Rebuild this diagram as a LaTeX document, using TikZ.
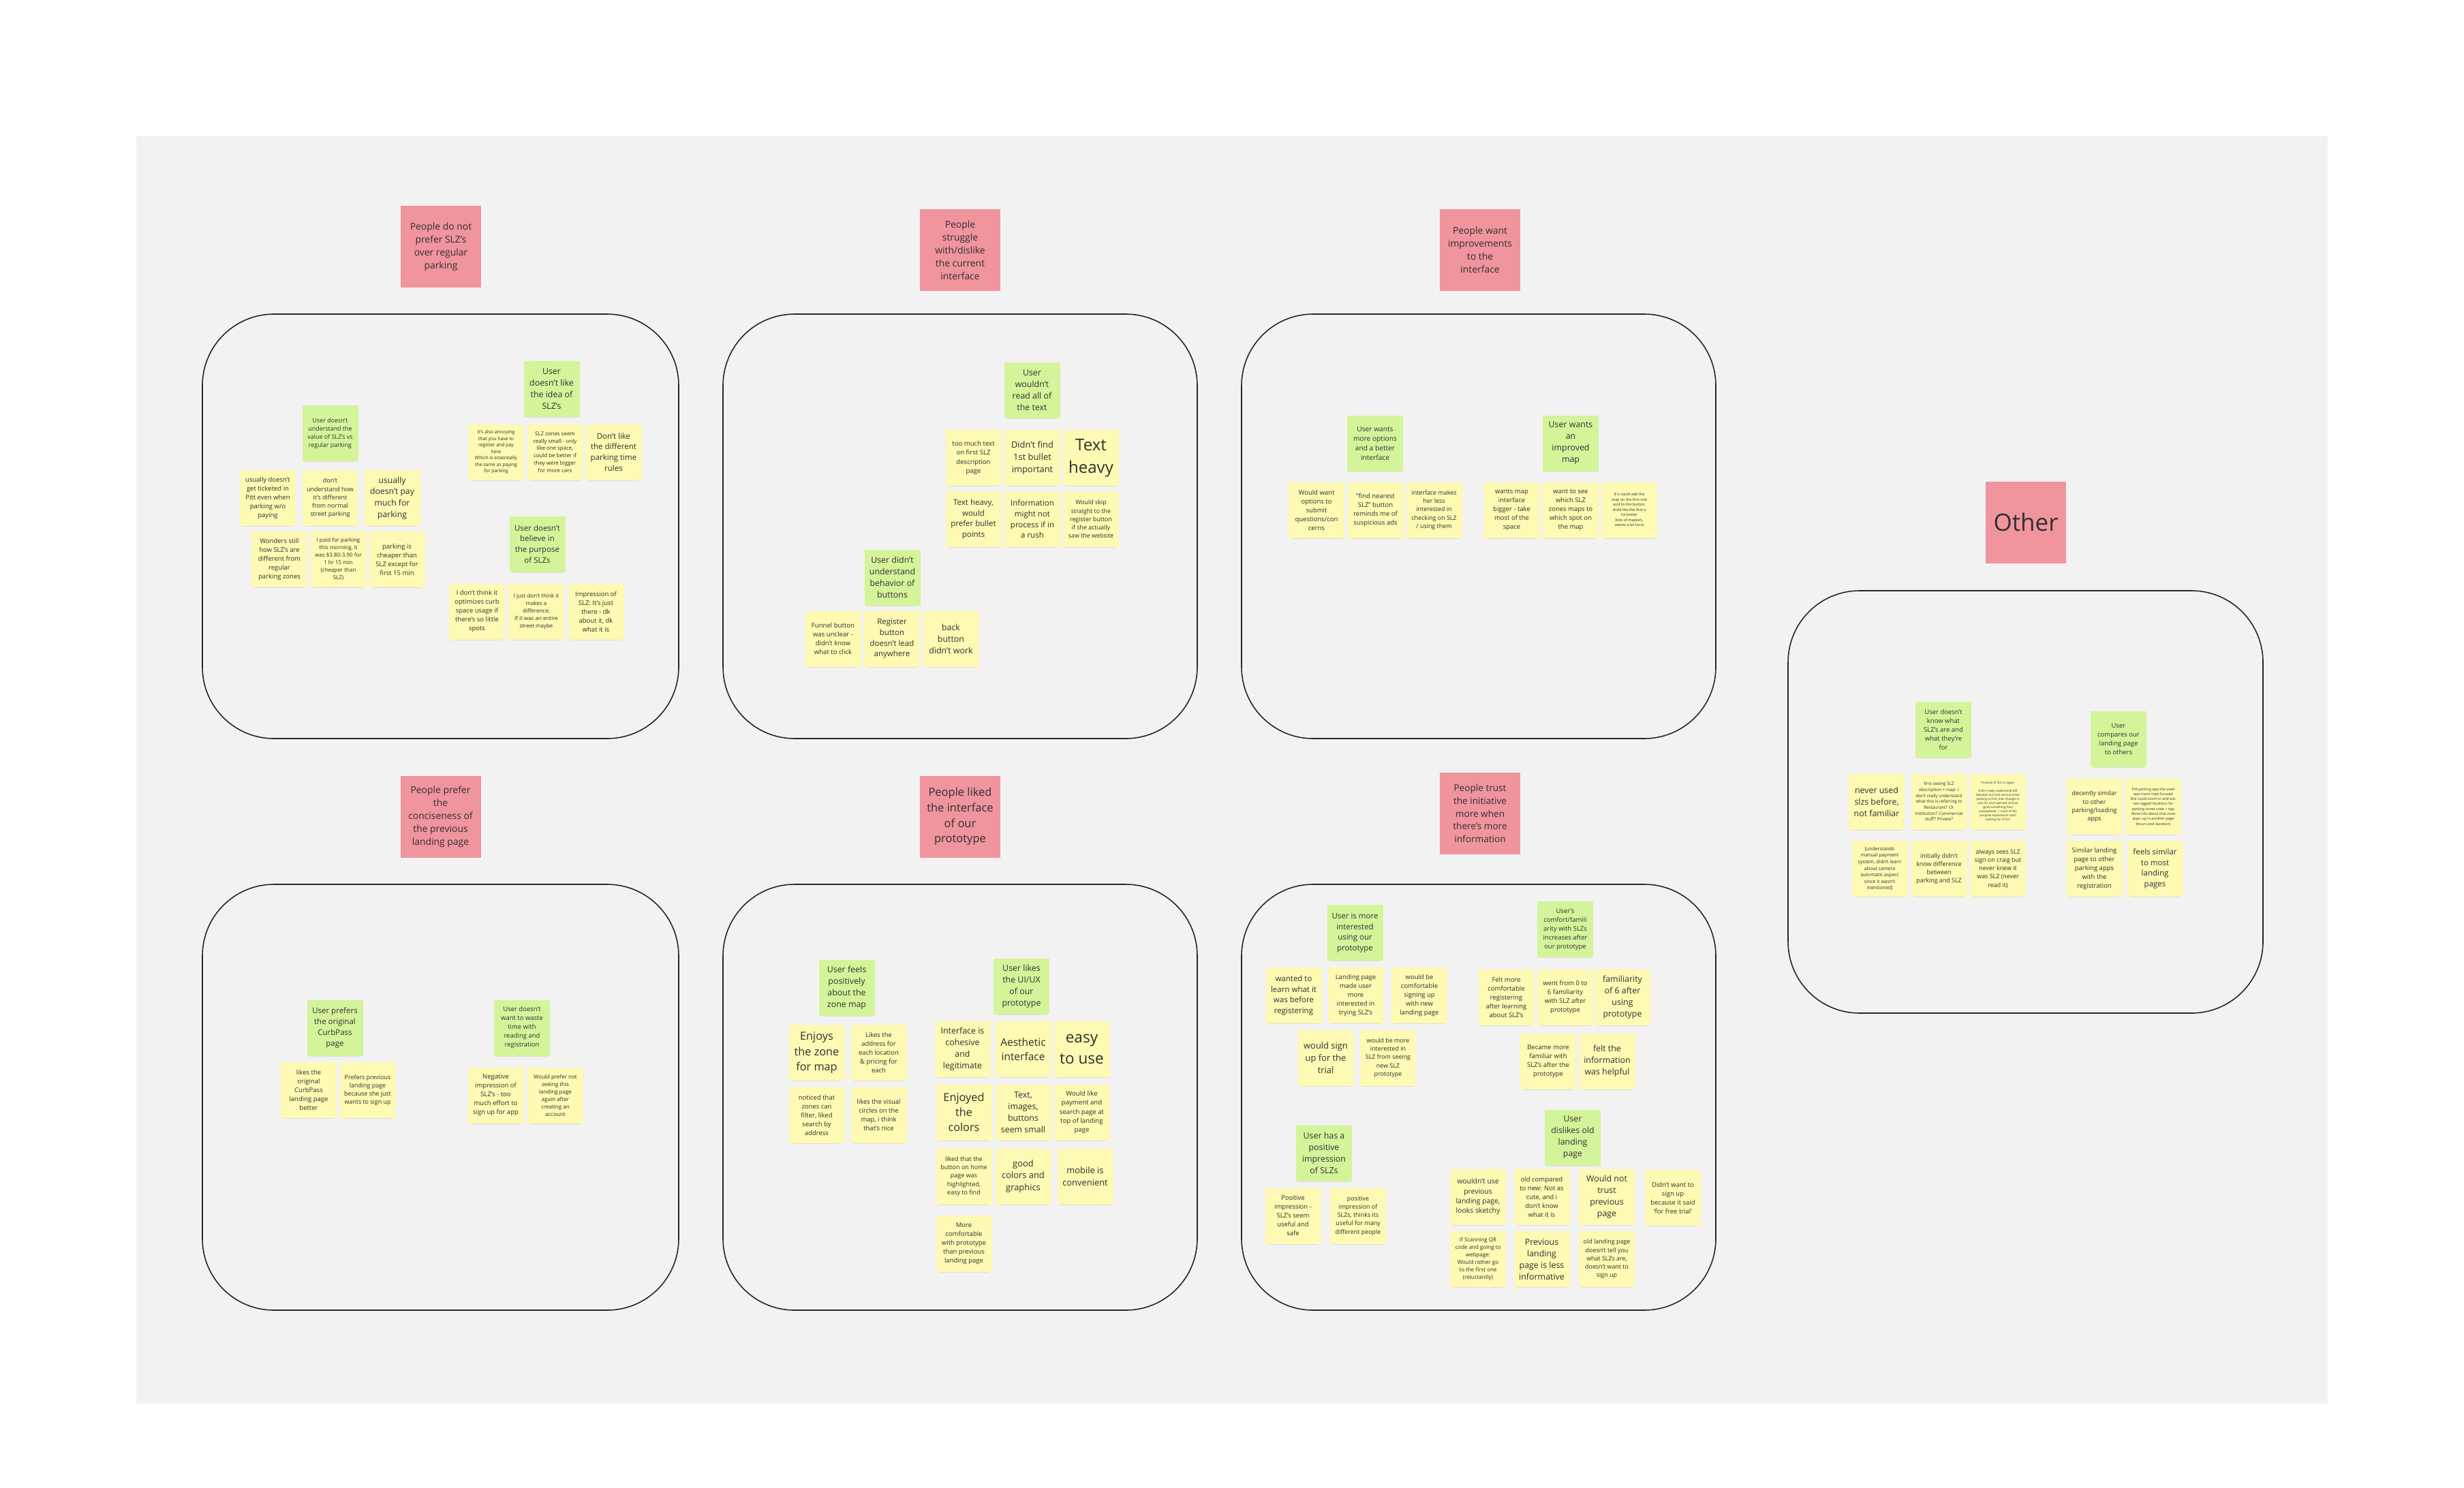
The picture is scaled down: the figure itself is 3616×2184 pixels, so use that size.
\documentclass[tikz,border=0pt]{standalone}
\usepackage{fontspec}
\setmainfont{Open Sans}
\usetikzlibrary{shadows}
\definecolor{board}{HTML}{F2F2F2}
\definecolor{stickyyellow}{HTML}{FEF9B3}
\definecolor{stickygreen}{HTML}{D4F49A}
\definecolor{stickyred}{HTML}{F0949E}
\definecolor{inktext}{HTML}{303030}
\tikzset{
  fs/.style 2 args={font=\fontsize{#1}{#2}\selectfont},
  sticky/.style={rectangle,inner sep=0pt,minimum width=82pt,minimum height=82pt,align=center,text=inktext,
    drop shadow={shadow xshift=0pt,shadow yshift=-6pt,shadow scale=0.9,opacity=0.18}},
  yel/.style={sticky,fill=stickyyellow},
  grn/.style={sticky,fill=stickygreen},
  hdr/.style={sticky,fill=stickyred,minimum width=118pt,minimum height=120pt,fs={13.9}{19}},
  cluster/.style={draw=black!85,line width=1.6pt,rounded corners=105pt}
}
\begin{document}
\begin{tikzpicture}[x=1pt,y=-1pt]
\useasboundingbox (0,0) rectangle (3616,2184);
\fill[board] (200,200) rectangle (3416,2060);
% cluster outlines
\draw[cluster] (297,461) rectangle (996,1084);
\draw[cluster] (1061,461) rectangle (1757,1084);
\draw[cluster] (1822,461) rectangle (2518,1084);
\draw[cluster] (297,1298) rectangle (996,1923);
\draw[cluster] (1061,1298) rectangle (1757,1923);
\draw[cluster] (1822,1298) rectangle (2518,1923);
\draw[cluster] (2624,867) rectangle (3321,1487);
% headers
\node[hdr] (h_prefer) at (647,362) {People do not\\prefer SLZ's\\over regular\\parking};
\node[hdr] (h_struggle) at (1409,367) {People\\struggle\\with/dislike\\the current\\interface};
\node[hdr] (h_improve) at (2172,367) {People want\\improvements\\to the\\interface};
\node[hdr] (h_concise) at (646.5,1198.5) {People prefer\\the\\conciseness of\\the previous\\landing page};
\node[hdr,fs={16.5}{22.7}] (h_liked) at (1409,1198.5) {People liked\\the interface\\of our\\prototype};
\node[hdr,fs={13.6}{18.7}] (h_trust) at (2172,1194) {People trust\\the initiative\\more when\\there's more\\information};
\node[hdr,fs={35}{40}] (h_other) at (2973,766.5) {Other};
% top left
\node[grn,fs={8.9}{12.2}] (g_value) at (484.5,636) {User doesn't\\understand the\\value of SLZ's vs\\regular parking};
\node[yel,fs={9.5}{13}] (y_ticket) at (393,731) {usually doesn't\\get ticketed in\\Pitt even when\\parking w/o\\paying};
\node[yel,fs={9}{12.3}] (y_dontund) at (484.5,731) {don't\\understand how\\it's different\\from normal\\street parking};
\node[yel,fs={12.2}{16.7}] (y_paymuch) at (575.5,731) {usually\\doesn't pay\\much for\\parking};
\node[yel,fs={9.5}{13}] (y_wonders) at (410,821) {Wonders still\\how SLZ's are\\different from\\regular\\parking zones};
\node[yel,fs={8}{11}] (y_paid) at (496.5,821) {I paid for parking\\this morning, it\\was \$3.80-3.90 for\\1 hr 15 min\\(cheaper than\\SLZ)};
\node[yel,fs={9.5}{13}] (y_cheaper) at (582.5,821) {parking is\\cheaper than\\SLZ except for\\first 15 min};
\node[grn,fs={12.4}{17}] (g_idea) at (809.5,571) {User\\doesn't like\\the idea of\\SLZ's};
\node[yel,fs={6.9}{9.5}] (y_annoy) at (728,663.5) {It's also annoying\\that you have to\\register and pay\\here\\Which is essentially\\the same as paying\\for parking};
\node[yel,fs={7.9}{10.8}] (y_small) at (814.5,663.5) {SLZ zones seem\\really small - only\\like one space,\\could be better if\\they were bigger\\for more cars};
\node[yel,fs={11.5}{15.7}] (y_rules) at (900.5,663.5) {Don't like\\the different\\parking time\\rules};
\node[grn,fs={11.5}{15.7}] (g_purpose) at (788.5,798.5) {User doesn't\\believe in\\the purpose\\of SLZs};
\node[yel,fs={9.5}{13}] (y_curb) at (700,897.5) {I don't think it\\optimizes curb\\space usage if\\there's so little\\spots};
\node[yel,fs={8}{11}] (y_diff) at (787,897.5) {I just don't think it\\makes a\\difference;\\If it was an entire\\street maybe};
\node[yel,fs={9.5}{13}] (y_impr) at (874.5,897.5) {Impression of\\SLZ: It's just\\there - dk\\about it, dk\\what it is};
% top middle
\node[grn,fs={12.4}{17}] (g_read) at (1514.5,572.5) {User\\wouldn't\\read all of\\the text};
\node[yel,fs={9.6}{13.2}] (y_toomuch) at (1428.5,672) {too much text\\on first SLZ\\description\\page};
\node[yel,fs={12.9}{17.7}] (y_bullet) at (1515,672) {Didn't find\\1st bullet\\important};
\node[yel,fs={24}{33}] (y_heavy) at (1601,672) {Text\\heavy};
\node[yel,fs={11.5}{15.7}] (y_prefer) at (1428.5,762) {Text heavy,\\would\\prefer bullet\\points};
\node[yel,fs={11.5}{15.7}] (y_rush) at (1515,762) {Information\\might not\\process if in\\a rush};
\node[yel,fs={8.9}{12.2}] (y_skip) at (1601,762) {Would skip\\straight to the\\register button\\if she actually\\saw the website};
\node[grn,fs={12.4}{17}] (g_buttons) at (1309.5,847.5) {User didn't\\understand\\behavior of\\buttons};
\node[yel,fs={9.6}{13.2}] (y_funnel) at (1222.5,937.5) {Funnel button\\was unclear -\\didn't know\\what to click};
\node[yel,fs={11.5}{15.7}] (y_register) at (1309,937.5) {Register\\button\\doesn't lead\\anywhere};
\node[yel,fs={12.4}{17}] (y_back) at (1395.5,937.5) {back\\button\\didn't work};
% top right
\node[grn,fs={10.2}{14}] (g_options) at (2018,650.5) {User wants\\more options\\and a better\\interface};
\node[yel,fs={9.5}{13}] (y_submit) at (1932,748.5) {Would want\\options to\\submit\\questions/con\\cerns};
\node[yel,fs={9.5}{13}] (y_nearest) at (2018.5,748.5) {"find nearest\\SLZ" button\\reminds me of\\suspicious ads};
\node[yel,fs={8.9}{12.2}] (y_lessint) at (2104.5,748.5) {interface makes\\her less\\interested in\\checking on SLZ\\/ using them};
\node[grn,fs={12.4}{17}] (g_map) at (2305,650.5) {User wants\\an\\improved\\map};
\node[yel,fs={9.5}{13}] (y_bigger) at (2218.5,748.5) {wants map\\interface\\bigger - take\\most of the\\space};
\node[yel,fs={9.5}{13}] (y_whichspot) at (2305,748.5) {want to see\\which SLZ\\zones maps to\\which spot on\\the map};
\node[yel,fs={5.5}{7.5}] (y_torn) at (2391,748.5) {If u could add the\\map on the first one\\and fix the button,\\she'd like the first a\\lot better\\(lots of maybe's,\\seems a bit torn)};
% other
\node[grn,fs={9.5}{13}] (g_know) at (2852,1070.5) {User doesn't\\know what\\SLZ's are and\\what they're\\for};
\node[yel,fs={12.4}{17}] (y_never) at (2754,1176.5) {never used\\slzs before,\\not familiar};
\node[yel,fs={6.3}{8.7}] (y_first) at (2845.5,1176.5) {first seeing SLZ\\description + map: I\\don't really understand\\what this is referring to\\Restaurant? Or\\Institution? Commercial\\stuff? Private?};
\node[yel,fs={4.4}{6}] (y_vague) at (2932,1176.5) {Purpose of SLZ is vague.\\[6pt]Didn't really understand diff\\between SLZ and normal street\\parking at first, then thought it\\was for short periods of time\\(grab something from\\somewhere) -> more of the\\purpose explanation she's\\looking for of SLZ};
\node[yel,fs={7}{9.6}] (y_manual) at (2758.5,1275) {[understands\\manual payment\\system, didn't learn\\about camera\\automatic aspect\\since it wasn't\\mentioned]};
\node[yel,fs={8.9}{12.2}] (y_initially) at (2845.5,1275) {initially didn't\\know difference\\between\\parking and SLZ};
\node[yel,fs={8.9}{12.2}] (y_craig) at (2932,1275) {always sees SLZ\\sign on craig but\\never knew it\\was SLZ (never\\read it)};
\node[grn,fs={9.5}{13}] (g_compare) at (3109,1085) {User\\compares our\\landing page\\to others};
\node[yel,fs={9}{12.3}] (y_decent) at (3073.5,1184) {decently similar\\to other\\parking/loading\\apps};
\node[yel,fs={5.3}{7.3}] (y_pitt) at (3160,1184) {Pitt parking app she used\\was more map focused\\She could zoom in and out,\\see tagged locations for\\parking street code + tap;\\More info about that zone\\pops up in another page\\(hours and duration)};
\node[yel,fs={9.5}{13}] (y_similar) at (3073.5,1275) {Similar landing\\page to other\\parking apps\\with the\\registration};
\node[yel,fs={11.5}{15.7}] (y_feels) at (3162.5,1275) {feels similar\\to most\\landing\\pages};
% bottom left
\node[grn,fs={11.5}{15.7}] (g_curbpass) at (491.5,1508.5) {User prefers\\the original\\CurbPass\\page};
\node[yel,fs={9.5}{13}] (y_likesorig) at (453,1600) {likes the\\original\\CurbPass\\landing page\\better};
\node[yel,fs={8.9}{12.2}] (y_signup) at (539.5,1600) {Prefers previous\\landing page\\because she just\\wants to sign up};
\node[grn,fs={9.5}{13}] (g_waste) at (766,1508.5) {User doesn't\\want to waste\\time with\\reading and\\registration};
\node[yel,fs={9.5}{13}] (y_negative) at (727.5,1607.5) {Negative\\impression of\\SLZ's - too\\much effort to\\sign up for app};
\node[yel,fs={8}{11}] (y_notagain) at (815,1607.5) {Would prefer not\\seeing this\\landing page\\again after\\creating an\\account};
% bottom middle
\node[grn,fs={12.4}{17}] (g_zonemap) at (1242.5,1449.5) {User feels\\positively\\about the\\zone map};
\node[yel,fs={16.3}{22.3}] (y_enjoyzone) at (1198.5,1545) {Enjoys\\the zone\\for map};
\node[yel,fs={9.5}{13}] (y_address) at (1289.5,1545) {Likes the\\address for\\each location\\\& pricing for\\each};
\node[yel,fs={9.5}{13}] (y_filter) at (1198.5,1636.5) {noticed that\\zones can\\filter, liked\\search by\\address};
\node[yel,fs={9.5}{13}] (y_circles) at (1289.5,1636.5) {likes the visual\\circles on the\\map, i think\\that's nice};
\node[grn,fs={12.4}{17}] (g_uiux) at (1499,1448) {User likes\\the UI/UX\\of our\\prototype};
\node[yel,fs={12.4}{17}] (y_cohesive) at (1412.5,1540) {Interface is\\cohesive\\and\\legitimate};
\node[yel,fs={15.5}{21.3}] (y_aesthetic) at (1501.5,1540) {Aesthetic\\interface};
\node[yel,fs={22.6}{31}] (y_easy) at (1587.5,1540) {easy\\to use};
\node[yel,fs={16.3}{22.3}] (y_colors) at (1414.5,1632.5) {Enjoyed\\the\\colors};
\node[yel,fs={12.4}{17}] (y_tiny) at (1501.5,1632.5) {Text,\\images,\\buttons\\seem small};
\node[yel,fs={9.6}{13.2}] (y_payment) at (1587.5,1632.5) {Would like\\payment and\\search page at\\top of landing\\page};
\node[yel,fs={9}{12.3}] (y_highlight) at (1414.5,1726.5) {liked that the\\button on home\\page was\\highlighted,\\easy to find};
\node[yel,fs={12.9}{17.7}] (y_graphics) at (1501.5,1726.5) {good\\colors and\\graphics};
\node[yel,fs={12.9}{17.7}] (y_mobile) at (1592.5,1726.5) {mobile is\\convenient};
\node[yel,fs={9.5}{13}] (y_comfy) at (1414.5,1825.5) {More\\comfortable\\with prototype\\than previous\\landing page};
% bottom right
\node[grn,fs={11.5}{15.7}] (g_interest) at (1988.5,1369) {User is more\\interested\\using our\\prototype};
\node[yel,fs={11.5}{15.7}] (y_learn) at (1898.5,1461) {wanted to\\learn what it\\was before\\registering};
\node[yel,fs={9.5}{13}] (y_madeuser) at (1989.5,1461) {Landing page\\made user\\more\\interested in\\trying SLZ's};
\node[yel,fs={9.5}{13}] (y_comfsign) at (2083,1461) {would be\\comfortable\\signing up\\with new\\landing page};
\node[yel,fs={12.9}{17.7}] (y_trial) at (1945.5,1552.5) {would sign\\up for the\\trial};
\node[yel,fs={8.9}{12.2}] (y_moreint) at (2037,1552.5) {would be more\\interested in\\SLZ from seeing\\new SLZ\\prototype};
\node[grn,fs={9.5}{13}] (g_familiar) at (2297,1364) {User's\\comfort/famili\\arity with SLZs\\increases after\\our prototype};
\node[yel,fs={9.5}{13}] (y_feltmore) at (2210.5,1463.5) {Felt more\\comfortable\\registering\\after learning\\about SLZ's};
\node[yel,fs={9.5}{13}] (y_zerosix) at (2297,1463.5) {went from 0 to\\6 familiarity\\with SLZ after\\prototype};
\node[yel,fs={12.4}{17}] (y_six) at (2381,1463.5) {familiarity\\of 6 after\\using\\prototype};
\node[yel,fs={9.5}{13}] (y_became) at (2272,1557.5) {Became more\\familiar with\\SLZ's after the\\prototype};
\node[yel,fs={12.4}{17}] (y_helpful) at (2358.5,1557.5) {felt the\\information\\was helpful};
\node[grn,fs={12.4}{17}] (g_positive) at (1943,1692.5) {User has a\\positive\\impression\\of SLZs};
\node[yel,fs={9.5}{13}] (y_safe) at (1897.5,1784.5) {Positive\\impression -\\SLZ's seem\\useful and\\safe};
\node[yel,fs={8.9}{12.2}] (y_manypeople) at (1993,1784.5) {positive\\impression of\\SLZs, thinks its\\useful for many\\different people};
\node[grn,fs={12.4}{17}] (g_dislike) at (2308,1669.5) {User\\dislikes old\\landing\\page};
\node[yel,fs={10.4}{14.3}] (y_sketchy) at (2169,1756.5) {wouldn't use\\previous\\landing page,\\looks sketchy};
\node[yel,fs={9.5}{13}] (y_cute) at (2262.5,1756.5) {old compared\\to new: Not as\\cute, and i\\don't know\\what it is};
\node[yel,fs={12.4}{17}] (y_trust) at (2358,1756.5) {Would not\\trust\\previous\\page};
\node[yel,fs={9.5}{13}] (y_freetrial) at (2455,1758) {Didn't want to\\sign up\\because it said\\`for free trial'};
\node[yel,fs={8}{11}] (y_qr) at (2169,1848) {If Scanning QR\\code and going to\\webpage:\\Would rather go\\to the first one\\(reluctantly)};
\node[yel,fs={12.4}{17}] (y_lessinfo) at (2262.5,1848) {Previous\\landing\\page is less\\informative};
\node[yel,fs={8.9}{12.2}] (y_nosignup) at (2358,1848) {old landing page\\doesn't tell you\\what SLZs are,\\doesn't want to\\sign up};
\end{tikzpicture}
\end{document}
